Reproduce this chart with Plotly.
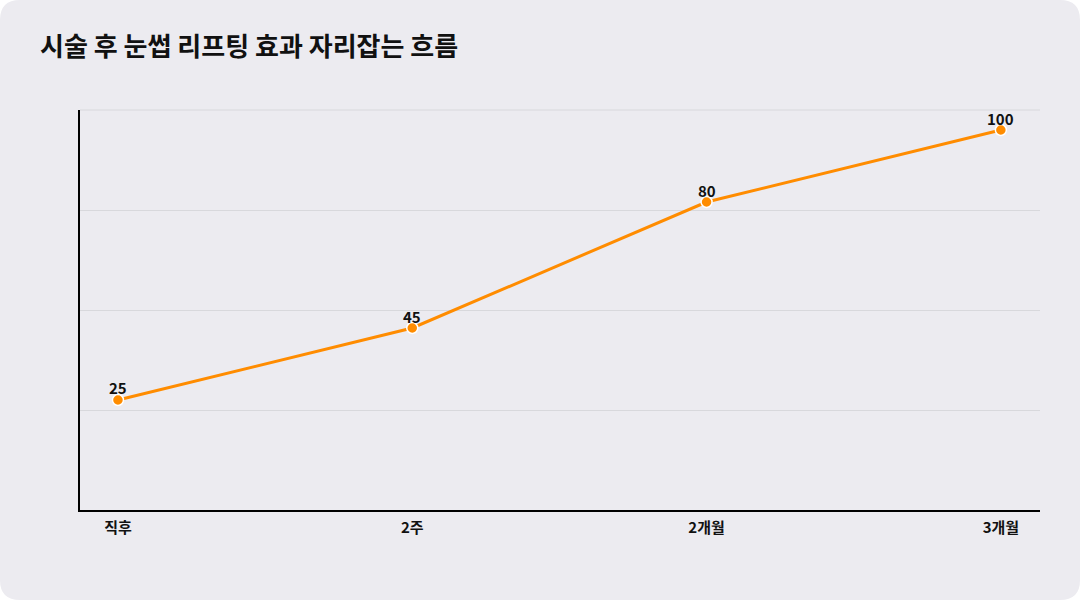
import plotly.graph_objects as go

categories = ["직후", "2주", "2개월", "3개월"]
values = [25, 45, 80, 100]
title_text = "시술 후 눈썹 리프팅 효과 자리잡는 흐름"

W, H = 1080, 600
L, R, T, B = 80, 40, 110, 90
pw, ph = W - L - R, H - T - B

y_min, y_max = -5.56, 105.56
grid_vals = [y_min + (y_max - y_min) * k / 4 for k in range(1, 4)]

FONT = "Noto Sans CJK KR"

fig = go.Figure()
fig.add_trace(go.Scatter(
    x=list(range(len(categories))), y=values,
    mode="lines+markers",
    line=dict(color="#FF8C00", width=3),
    marker=dict(size=11, color="#FF8C00", line=dict(color="white", width=1.5)),
    cliponaxis=False,
    hoverinfo="skip",
))

for i, v in enumerate(values):
    fig.add_annotation(x=i, y=v, text=str(v), showarrow=False,
                       yshift=12, yanchor="middle", xanchor="center",
                       font=dict(family=FONT, size=15, color="#111111", weight="bold"))

def px(x):
    return (x - L) / pw
def py(y):
    return (H - B - y) / ph
r = 20
path = (f"M {px(r)} {py(0)} L {px(W-r)} {py(0)} "
        f"Q {px(W)} {py(0)} {px(W)} {py(r)} L {px(W)} {py(H-r)} "
        f"Q {px(W)} {py(H)} {px(W-r)} {py(H)} L {px(r)} {py(H)} "
        f"Q {px(0)} {py(H)} {px(0)} {py(H-r)} L {px(0)} {py(r)} "
        f"Q {px(0)} {py(0)} {px(r)} {py(0)} Z")
fig.add_shape(type="path", path=path, xref="paper", yref="paper",
              fillcolor="#ECEBF0", line=dict(width=0), layer="below")
# top gridline (at the top of the value range)
fig.add_shape(type="line", xref="paper", yref="paper", x0=0, x1=1, y0=1, y1=1,
              line=dict(color="#D8D8DC", width=1), layer="below")

fig.update_layout(
    width=W, height=H,
    margin=dict(l=L, r=R, t=T, b=B),
    paper_bgcolor="white",
    plot_bgcolor="rgba(0,0,0,0)",
    showlegend=False,
    font=dict(family=FONT, color="#111111"),
    title=dict(text=title_text, x=40 / W, xanchor="left", y=1 - 47 / H, yanchor="middle",
               font=dict(family=FONT, size=26, color="#111111", weight="bold")),
    xaxis=dict(
        range=[-0.129, 3.133],
        tickmode="array", tickvals=list(range(len(categories))), ticktext=categories,
        showgrid=False, zeroline=False,
        showline=True, linecolor="black", linewidth=2,
        ticks="outside", ticklen=3, tickcolor="rgba(0,0,0,0)",
        tickfont=dict(family=FONT, size=15, color="#111111", weight="bold"),
        fixedrange=True,
    ),
    yaxis=dict(
        range=[y_min, y_max],
        tickmode="array", tickvals=grid_vals, showticklabels=False,
        showgrid=True, gridcolor="#D8D8DC", gridwidth=1,
        zeroline=False,
        showline=True, linecolor="black", linewidth=2,
        ticks="",
        fixedrange=True,
    ),
)

fig.write_html("out.html")
